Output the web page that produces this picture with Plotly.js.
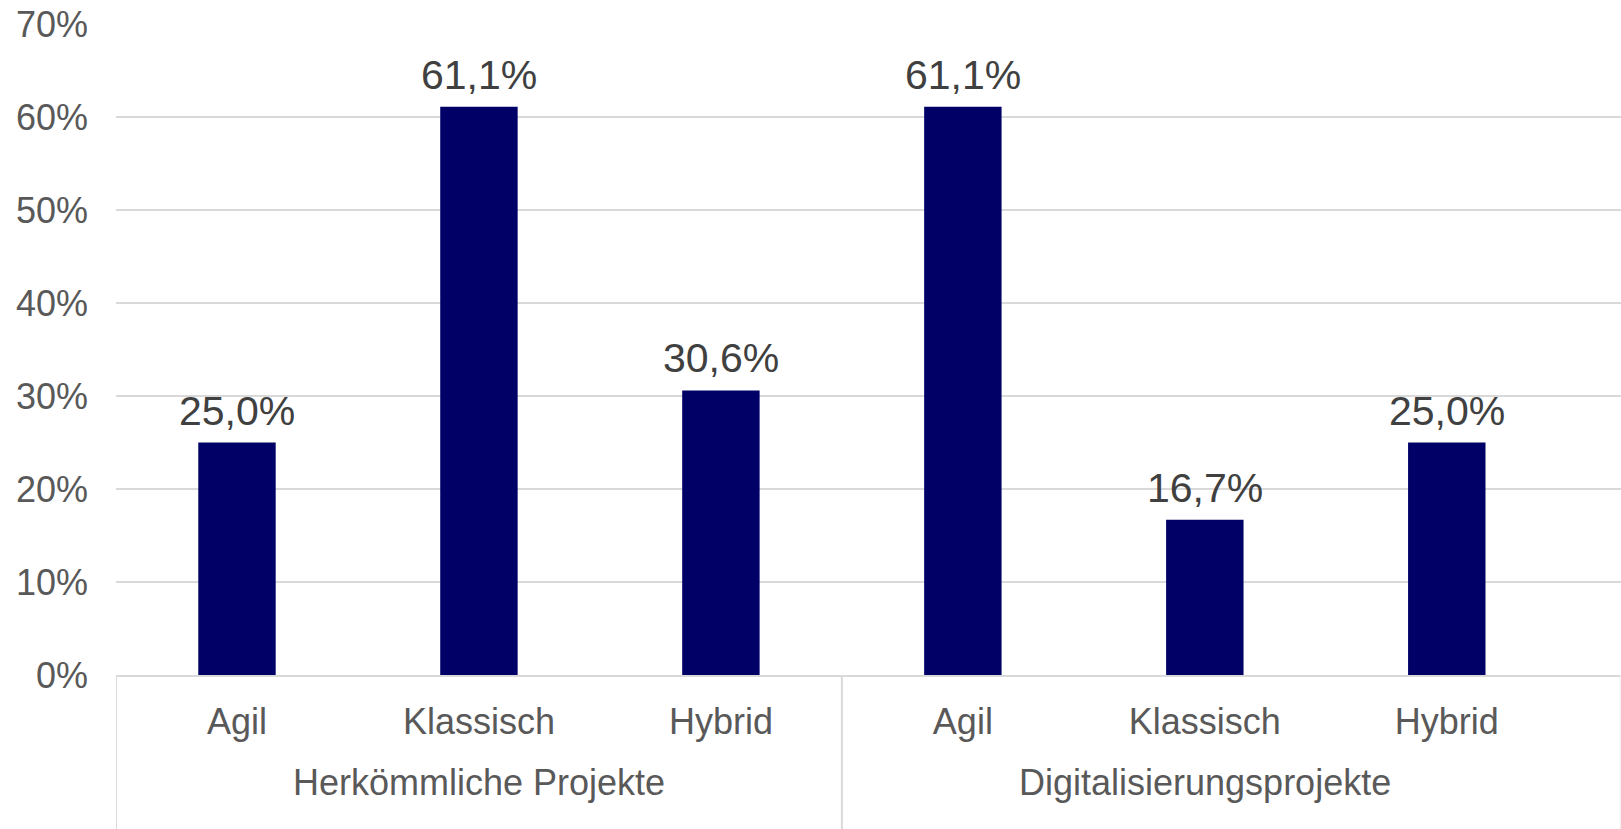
<!DOCTYPE html>
<html>
<head>
<meta charset="utf-8">
<script src="https://cdn.plot.ly/plotly-3.0.1.min.js"></script>
<style>html,body{margin:0;padding:0;background:#fff;}#chart{width:1621px;height:829px;}</style>
</head>
<body>
<div id="chart"></div>
<script>
const groupNames = ["Herkömmliche Projekte","Digitalisierungsprojekte"];
const groups = ["Herkömmliche Projekte","Herkömmliche Projekte","Herkömmliche Projekte","Digitalisierungsprojekte","Digitalisierungsprojekte","Digitalisierungsprojekte"];
const methods = ["Agil","Klassisch","Hybrid","Agil","Klassisch","Hybrid"];
const shares = [0.250, 0.611, 0.306, 0.611, 0.167, 0.250];
const yTicks = [0,0.1,0.2,0.3,0.4,0.5,0.6,0.7];

const FONT = 'Liberation Sans, Arial, sans-serif';
const cats = groups.map((g,i) => g + ' · ' + methods[i]);

const trace = {
  type: 'bar',
  x: cats,
  y: shares,
  marker: {color: '#000066', line: {width: 0}},
  hoverinfo: 'skip'
};

const fmt = v => (v*100).toFixed(1).replace('.', ',') + '%';

// value labels above each bar
const valueLabels = shares.map((v,i) => ({
  xref:'x', yref:'y', x: i, y: v, yanchor:'middle', xanchor:'center', yshift: 32,
  text: fmt(v), showarrow:false, font:{family:FONT, size:41, color:'#404040'}
}));

// group labels and dividers, placed from the category indices of each group
const groupLabels = groupNames.map(g => {
  const idx = groups.map((x,i)=> x===g ? i : -1).filter(i=>i>=0);
  const mid = (idx[0] + idx[idx.length-1]) / 2;
  return {xref:'x', yref:'paper', x: mid, y: -0.1644, yanchor:'middle', xanchor:'center',
          text: g, showarrow:false, font:{family:FONT, size:36, color:'#595959'}};
});
const shapes = [];
groupNames.forEach(g => {
  const first = groups.indexOf(g);
  shapes.push({type:'line', xref:'x', yref:'paper', x0:first-0.5, x1:first-0.5, y0:0, y1:-0.24,
               line:{color:'#d9d9d9', width:2}});
});
shapes.push({type:'line', xref:'paper', yref:'paper', x0:0.9995, x1:0.9995, y0:0, y1:-0.24,
             line:{color:'#eeeeee', width:1}});

const layout = {
  width: 1621, height: 829,
  margin: {l: 116, r: 0, t: 24, b: 154},
  paper_bgcolor: '#fff', plot_bgcolor: '#fff',
  bargap: 0.68,
  showlegend: false,
  font: {family: FONT, size: 36, color: '#595959'},
  annotations: valueLabels.concat(groupLabels),
  shapes: shapes,
  xaxis: {
    type: 'category',
    range: [-0.5, 5.72],
    tickvals: cats,
    ticktext: methods,
    showgrid: false,
    showline: true, linecolor: '#d9d9d9', linewidth: 2,
    ticks: '', ticklabelstandoff: 14,
    tickfont: {family: FONT, size: 36, color: '#595959'},
    zeroline: false, automargin: false
  },
  yaxis: {
    range: [0, 0.7],
    tickvals: yTicks,
    tickformat: '.0%',
    showgrid: true, gridcolor: '#d9d9d9', gridwidth: 2,
    zeroline: false, showline: false,
    ticks: '', ticklabelstandoff: 27, automargin: false,
    tickfont: {family: FONT, size: 36, color: '#595959'}
  }
};

Plotly.newPlot('chart', [trace], layout, {displayModeBar: false, staticPlot: true});
</script>
</body>
</html>
